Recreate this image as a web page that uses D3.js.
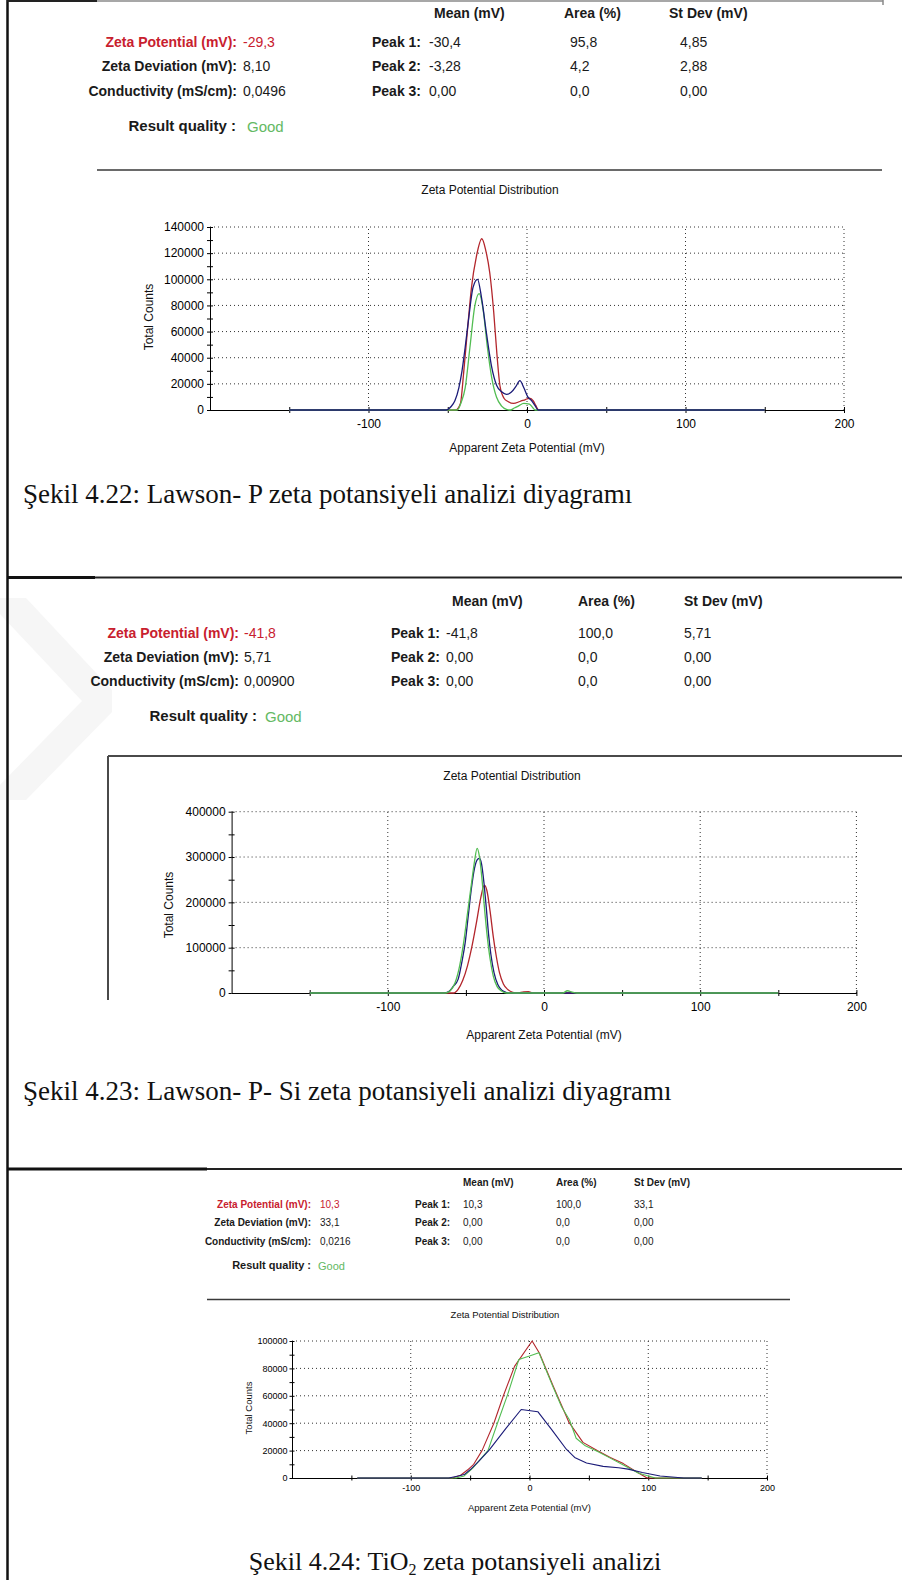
<!DOCTYPE html>
<html><head><meta charset="utf-8">
<script src="https://cdn.jsdelivr.net/npm/d3@7"></script>
<style>
html,body{margin:0;padding:0;background:#fff;}
svg{display:block;}
text{font-family:"Liberation Sans",Arial,Helvetica,sans-serif;}
text.cap{font-family:"Liberation Serif","Times New Roman",Times,serif;}
</style></head><body>
<svg id="fig" width="902" height="1580"></svg>
<script>
// ---- report table labels ----
const summaryLabels = ["Zeta Potential (mV):", "Zeta Deviation (mV):", "Conductivity (mS/cm):"];
const peakLabels = ["Peak 1:", "Peak 2:", "Peak 3:"];
const colHeaders = ["Mean (mV)", "Area (%)", "St Dev (mV)"];
const qualityLabel = "Result quality :";
const qualityValue = "Good";
const chartTitle = "Zeta Potential Distribution";
const xAxisTitle = "Apparent Zeta Potential (mV)";
const yAxisTitle = "Total Counts";

// ---- Lawson- P ----
const lawsonP_summary = ["-29,3", "8,10", "0,0496"];
const lawsonP_mean = ["-30,4", "-3,28", "0,00"];
const lawsonP_area = ["95,8", "4,2", "0,0"];
const lawsonP_sd = ["4,85", "2,88", "0,00"];
const lawsonP_yTicks = [0, 20000, 40000, 60000, 80000, 100000, 120000, 140000];
const lawsonP_yMinor = [10000, 30000, 50000, 70000, 90000, 110000, 130000];
const lawsonP_red = [[-150,0],[-45,0],[-42,5000],[-40,28000],[-37.5,62000],[-35,94000],[-32,117000],[-28.5,131000],[-26,122000],[-23.5,105000],[-21,75000],[-19,43000],[-17,18000],[-14.5,9000],[-12,6500],[-8.5,5000],[-4.5,6500],[-1,8000],[1.5,9000],[4,7000],[5.5,3500],[7.5,0],[150,0]];
const lawsonP_green = [[-150,0],[-44,0],[-41.5,6000],[-39,17000],[-36,48000],[-33,79000],[-30.2,89000],[-27.6,76000],[-25,48000],[-22.3,25000],[-19.2,9700],[-16,3000],[-13,500],[-10.5,0],[-8,1500],[-5.5,3000],[-2,5000],[1.5,4500],[3.5,2000],[5,0],[150,0]];
const lawsonP_blue = [[-150,0],[-51,0],[-48,2500],[-45.5,7000],[-43,17000],[-41,30000],[-39,48000],[-37,68000],[-34,94000],[-31.2,100000],[-28.7,86000],[-25.5,58000],[-22.3,33000],[-19.2,19000],[-16,14000],[-13,12000],[-10,13500],[-7,18000],[-4.5,22500],[-2,17000],[0.5,10000],[3,7000],[5,3500],[7,0],[150,0]];

// ---- Lawson- P- Si ----
const lawsonPSi_summary = ["-41,8", "5,71", "0,00900"];
const lawsonPSi_mean = ["-41,8", "0,00", "0,00"];
const lawsonPSi_area = ["100,0", "0,0", "0,0"];
const lawsonPSi_sd = ["5,71", "0,00", "0,00"];
const lawsonPSi_yTicks = [0, 100000, 200000, 300000, 400000];
const lawsonPSi_yMinor = [50000, 150000, 250000, 350000];
const lawsonPSi_red = [[-150,0],[-58,0],[-55,8000],[-52,28000],[-49,60000],[-46,105000],[-43,160000],[-40.5,210000],[-38.2,238000],[-36.5,225000],[-34.5,180000],[-32.5,125000],[-30.5,80000],[-28.5,45000],[-26,20000],[-23,7000],[-20,1500],[-17,0],[-13,2500],[-10,3000],[-7,0],[150,0]];
const lawsonPSi_green = [[-150,0],[-63,0],[-60,5000],[-57,22000],[-54,60000],[-51.5,110000],[-49,175000],[-46.5,240000],[-44.5,290000],[-42.8,319000],[-41.3,300000],[-39.8,255000],[-38.3,195000],[-36.5,130000],[-34.5,75000],[-32.5,38000],[-30,14000],[-27,4000],[-24,0],[12,0],[15,5000],[18,2000],[21,0],[150,0]];
const lawsonPSi_blue = [[-150,0],[-64,0],[-61,3000],[-58,15000],[-55,30000],[-52.5,70000],[-50.5,110000],[-48.5,170000],[-46.5,230000],[-44.5,275000],[-42.5,295000],[-41.3,297000],[-40,285000],[-38.5,245000],[-37,190000],[-35.5,130000],[-34,85000],[-32,45000],[-29.5,18000],[-27,6000],[-24,1000],[-22,0],[150,0]];

// ---- TiO2 ----
const tio2_summary = ["10,3", "33,1", "0,0216"];
const tio2_mean = ["10,3", "0,00", "0,00"];
const tio2_area = ["100,0", "0,0", "0,0"];
const tio2_sd = ["33,1", "0,00", "0,00"];
const tio2_yTicks = [0, 20000, 40000, 60000, 80000, 100000];
const tio2_yMinor = [10000, 30000, 50000, 70000, 90000];
const tio2_red = [[-145,0],[-65,0],[-58,2000],[-52,6000],[-47,10000],[-40,20000],[-30,40000],[-22,60000],[-12.6,81500],[2.2,100000],[8.4,91000],[20,67000],[33,41000],[45,26000],[57,20000],[68,15000],[79,10500],[90,4500],[99,0],[145,0]];
const tio2_green = [[-145,0],[-62,0],[-55,1500],[-48,7000],[-42,13000],[-35,20000],[-27,40000],[-18,62000],[-9,86500],[0,89000],[7.9,91500],[19.7,66700],[27,52000],[33.7,42300],[39.3,29000],[47,23500],[57,19500],[68,14500],[79,9500],[92,3500],[106,0],[145,0]];
const tio2_blue = [[-145,0],[-68,0],[-60,1500],[-55,2500],[-50,6000],[-43,12000],[-34,20400],[-20,36000],[-7,50000],[7,48400],[19,35000],[31,21000],[38,15000],[48,11000],[62,8500],[75,7500],[83,6500],[95,4000],[110,1500],[130,0],[145,0]];

// shared x axis values
const xDomain = [-200, 200];
const xTickMarks = [-150, -100, -50, 0, 50, 100, 150, 200];
const xTickLabels = [-100, 0, 100, 200];
const xGrid = [-100, 0, 100, 200];

const captions = [
  "Şekil 4.22: Lawson- P zeta potansiyeli analizi diyagramı",
  "Şekil 4.23: Lawson- P- Si zeta potansiyeli analizi diyagramı"
];

const RED = "#b3262c", BLUE = "#1b1b78", GREEN = "#52bd52";
const TXT_RED = "#c8202e", TXT_GREEN = "#63b963", TXT = "#1a1a1a";

const svg = d3.select("#fig");

function hline(x1, x2, y, w, c) {
  svg.append("line").attr("x1", x1).attr("x2", x2).attr("y1", y).attr("y2", y)
    .attr("stroke", c).attr("stroke-width", w);
}
function vline(x, y1, y2, w, c) {
  svg.append("line").attr("x1", x).attr("x2", x).attr("y1", y1).attr("y2", y2)
    .attr("stroke", c).attr("stroke-width", w);
}

// faint watermark on the left edge
svg.append("path")
  .attr("d", "M0,598 L26,598 L112,690 L112,712 L26,800 L0,800 L0,785 L82,701 L0,614 Z")
  .attr("fill", "#f6f6f6");

// ---- page frame ----
vline(7.5, 0, 1580, 2.5, "#111");
hline(7, 97, 1, 2, "#222");
hline(97, 883, 1, 1.5, "#8a8a8a");
vline(883, 0, 5, 1.5, "#8a8a8a");
hline(7, 902, 577.5, 2, "#222");
hline(7, 95, 577.5, 2.8, "#111");
hline(7, 902, 1169, 2, "#222");
hline(7, 207, 1169, 2.8, "#111");

// ---- summary tables ----
function drawSummary(t, summary, mean, area, sd) {
  const g = svg.append("g").attr("fill", TXT);
  colHeaders.forEach((h, i) => {
    g.append("text").attr("x", t.headX[i]).attr("y", t.headY).attr("dy", "0.35em")
      .attr("font-size", t.fs).attr("font-weight", "bold").text(h);
  });
  summaryLabels.forEach((lab, i) => {
    const y = t.rowY[i];
    const col = i === 0 ? TXT_RED : TXT;
    g.append("text").attr("x", t.labelR).attr("y", y).attr("dy", "0.35em")
      .attr("text-anchor", "end").attr("font-size", t.fs).attr("font-weight", "bold")
      .attr("fill", col).text(lab);
    g.append("text").attr("x", t.valX).attr("y", y).attr("dy", "0.35em")
      .attr("font-size", t.fs).attr("fill", col).text(summary[i]);
    g.append("text").attr("x", t.peakX).attr("y", y).attr("dy", "0.35em")
      .attr("font-size", t.fs).attr("font-weight", "bold").text(peakLabels[i]);
    g.append("text").attr("x", t.meanX).attr("y", y).attr("dy", "0.35em")
      .attr("font-size", t.fs).text(mean[i]);
    g.append("text").attr("x", t.areaX).attr("y", y).attr("dy", "0.35em")
      .attr("font-size", t.fs).text(area[i]);
    g.append("text").attr("x", t.sdX).attr("y", y).attr("dy", "0.35em")
      .attr("font-size", t.fs).text(sd[i]);
  });
  g.append("text").attr("x", t.qR).attr("y", t.qY).attr("dy", "0.35em")
    .attr("text-anchor", "end").attr("font-size", t.qfs).attr("font-weight", "bold")
    .text(qualityLabel);
  g.append("text").attr("x", t.goodX).attr("y", t.qY + 1).attr("dy", "0.35em")
    .attr("font-size", t.qfs).attr("fill", TXT_GREEN).text(qualityValue);
}

// ---- distribution charts ----
function drawChart(c, yTicks, yMinor, series) {
  const x = d3.scaleLinear().domain(xDomain).range([c.x0, c.x1]);
  const y = d3.scaleLinear().domain([0, yTicks[yTicks.length - 1]]).range([c.y0, c.y1]);
  const g = svg.append("g");

  // dotted grid
  g.selectAll(".hg").data(yTicks.filter(v => v > 0)).join("line")
    .attr("x1", c.x0).attr("x2", c.x1).attr("y1", d => y(d)).attr("y2", d => y(d))
    .attr("stroke", "#333").attr("stroke-width", 1).attr("stroke-dasharray", "1,3");
  g.selectAll(".vg").data(xGrid).join("line")
    .attr("x1", d => x(d)).attr("x2", d => x(d)).attr("y1", c.y0).attr("y2", c.y1)
    .attr("stroke", "#333").attr("stroke-width", 1).attr("stroke-dasharray", "1,3");

  // y axis: labelled ticks and minor ticks, both crossing the axis line
  const yAx = g.append("g").attr("transform", `translate(${c.x0},0)`)
    .call(d3.axisLeft(y).tickValues(yTicks).tickSize(c.tick).tickSizeOuter(0)
      .tickPadding(c.pad).tickFormat(d => String(d)));
  yAx.append("g").call(d3.axisLeft(y).tickValues(yMinor).tickSize(c.tick).tickFormat(""))
    .select(".domain").remove();
  yAx.selectAll(".tick").append("line").attr("x2", c.tick).attr("stroke", "#000");
  yAx.selectAll("text").attr("font-size", c.fs).attr("fill", "#000")
    .style("font-family", "'Liberation Sans', Arial, sans-serif");
  yAx.selectAll("path,line").attr("stroke", "#000");

  // x axis
  const xAx = g.append("g").attr("transform", `translate(0,${c.y0})`)
    .call(d3.axisBottom(x).tickValues(xTickMarks).tickSize(c.tick).tickSizeOuter(0)
      .tickPadding(c.xpad).tickFormat(d => xTickLabels.includes(d) ? String(d) : ""));
  xAx.selectAll(".tick").append("line").attr("y2", -c.tick).attr("stroke", "#000");
  xAx.selectAll("text").attr("font-size", c.fs).attr("fill", "#000")
    .style("font-family", "'Liberation Sans', Arial, sans-serif");
  xAx.selectAll("path,line").attr("stroke", "#000");

  // curves
  const line = d3.line().x(d => x(d[0])).y(d => y(d[1])).curve(c.curve);
  series.forEach(s => {
    g.append("path").datum(s.data).attr("d", line).attr("fill", "none")
      .attr("stroke", s.color).attr("stroke-width", c.lw).attr("stroke-linejoin", "round");
  });

  // titles
  g.append("text").attr("x", c.titleX).attr("y", c.titleY).attr("dy", "0.35em")
    .attr("text-anchor", "middle").attr("font-size", c.tfs).attr("fill", "#111").text(chartTitle);
  g.append("text").attr("x", x(0)).attr("y", c.xTitleY).attr("dy", "0.35em")
    .attr("text-anchor", "middle").attr("font-size", c.tfs).attr("fill", "#111").text(xAxisTitle);
  g.append("text").attr("transform", `translate(${c.yTitleX},${c.yTitleY}) rotate(-90)`)
    .attr("dy", "0.35em").attr("text-anchor", "middle").attr("font-size", c.tfs)
    .attr("fill", "#111").text(yAxisTitle);
}

// Panel 1: Lawson- P
drawSummary({labelR: 237, valX: 243, peakX: 372, meanX: 429, areaX: 570, sdX: 680,
  headX: [434, 564, 669], headY: 13, rowY: [42, 66, 91], qR: 236, goodX: 247, qY: 126,
  fs: 14, qfs: 15}, lawsonP_summary, lawsonP_mean, lawsonP_area, lawsonP_sd);
hline(97, 882, 170, 2.2, "#6a6a6a");
drawChart({x0: 210, x1: 844, y0: 410, y1: 227, tick: 3, pad: 3, xpad: 6, fs: 12, tfs: 12, lw: 1.3,
  titleX: 490, titleY: 190, xTitleY: 448, yTitleX: 149, yTitleY: 317, curve: d3.curveMonotoneX},
  lawsonP_yTicks, lawsonP_yMinor,
  [{data: lawsonP_red, color: RED}, {data: lawsonP_green, color: GREEN}, {data: lawsonP_blue, color: BLUE}]);
svg.append("text").attr("class", "cap").attr("x", 23).attr("y", 503).attr("font-size", 27)
  .attr("fill", "#111").text(captions[0]);

// Panel 2: Lawson- P- Si
drawSummary({labelR: 239, valX: 244, peakX: 391, meanX: 446, areaX: 578, sdX: 684,
  headX: [452, 578, 684], headY: 601, rowY: [633, 657, 681], qR: 257, goodX: 265, qY: 716,
  fs: 14, qfs: 15}, lawsonPSi_summary, lawsonPSi_mean, lawsonPSi_area, lawsonPSi_sd);
hline(108, 902, 756, 2, "#4a4a4a");
vline(108, 756, 1000, 2, "#4a4a4a");
drawChart({x0: 231.6, x1: 856.4, y0: 993, y1: 811.7, tick: 3, pad: 3, xpad: 6, fs: 12, tfs: 12, lw: 1.3,
  titleX: 512, titleY: 776, xTitleY: 1035, yTitleX: 169, yTitleY: 905, curve: d3.curveMonotoneX},
  lawsonPSi_yTicks, lawsonPSi_yMinor,
  [{data: lawsonPSi_red, color: RED}, {data: lawsonPSi_blue, color: BLUE}, {data: lawsonPSi_green, color: GREEN}]);
svg.append("text").attr("class", "cap").attr("x", 23).attr("y", 1100).attr("font-size", 27)
  .attr("fill", "#111").text(captions[1]);

// Panel 3: TiO2
drawSummary({labelR: 311, valX: 320, peakX: 415, meanX: 463, areaX: 556, sdX: 634,
  headX: [463, 556, 634], headY: 1182, rowY: [1204, 1222, 1241], qR: 311, goodX: 318, qY: 1265,
  fs: 10, qfs: 11}, tio2_summary, tio2_mean, tio2_area, tio2_sd);
hline(207, 790, 1299.5, 1.5, "#3a3a3a");
drawChart({x0: 292, x1: 767, y0: 1478, y1: 1341, tick: 2.5, pad: 2, xpad: 4, fs: 9, tfs: 9.5, lw: 1.1,
  titleX: 505, titleY: 1315, xTitleY: 1508, yTitleX: 249, yTitleY: 1408, curve: d3.curveLinear},
  tio2_yTicks, tio2_yMinor,
  [{data: tio2_red, color: RED}, {data: tio2_green, color: GREEN}, {data: tio2_blue, color: BLUE}]);
const cap3 = svg.append("text").attr("class", "cap").attr("x", 455).attr("y", 1570)
  .attr("text-anchor", "middle").attr("font-size", 26).attr("fill", "#111");
cap3.append("tspan").text("Şekil 4.24: TiO");
cap3.append("tspan").attr("font-size", 16).attr("dy", 5).text("2");
cap3.append("tspan").attr("dy", -5).text(" zeta potansiyeli analizi");
</script></body></html>
